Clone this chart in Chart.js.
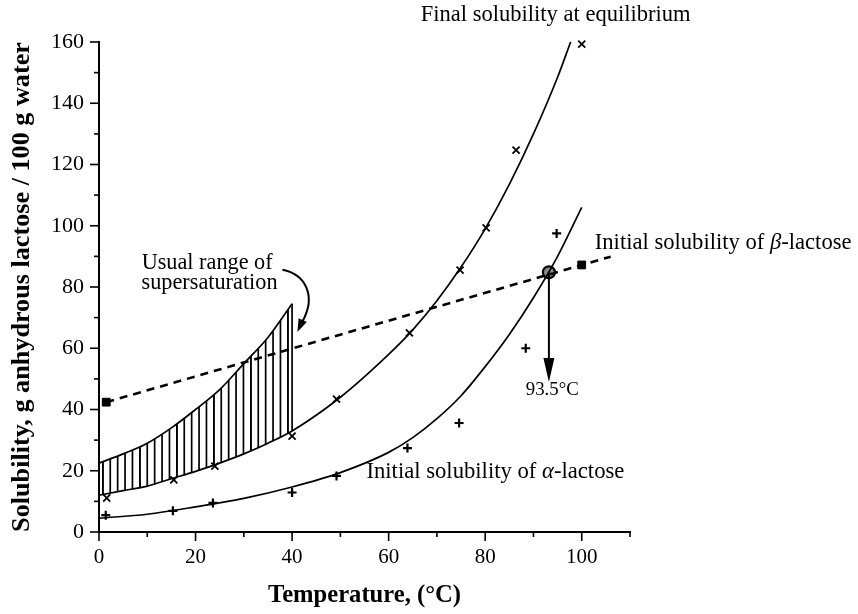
<!DOCTYPE html>
<html><head><meta charset="utf-8">
<script src="https://cdn.jsdelivr.net/npm/chart.js@4.4.1/dist/chart.umd.min.js"></script>
<style>html,body{margin:0;padding:0;background:#fff}#wrap{width:858px;height:614px;position:relative}</style>
</head><body><div id="wrap"><canvas id="c"></canvas></div>
<script>
// ---- data ----
const xTickValues = [0, 20, 40, 60, 80, 100];
const yTickValues = [0, 20, 40, 60, 80, 100, 120, 140, 160];

// measured points: final solubility at equilibrium (x markers)
const finalTemp = [1.6, 15.5, 24, 40, 49.2, 64.3, 74.8, 80.2, 86.4, 100];
const finalSol  = [11.1, 17, 21.5, 31.3, 43.4, 65, 85.5, 99.3, 124.7, 159.3];
// measured points: initial solubility of alpha-lactose (+ markers)
const alphaTemp = [1.4, 15.3, 23.6, 40, 49.2, 63.9, 74.6, 88.4, 94.8];
const alphaSol  = [5.5, 6.9, 9.5, 12.9, 18.3, 27.4, 35.6, 60, 97.5];
// measured points: initial solubility of beta-lactose (filled squares)
const betaTemp = [1.5, 100];
const betaSol  = [42.4, 87.2];

// fitted curves as drawn in the reference
const finalCurveT = [0, 5, 10, 15, 20, 25, 30, 35, 40, 50, 60, 65, 70, 75, 80, 85, 90, 95, 97.7];
const finalCurveS = [12, 13.5, 15, 17.4, 19.8, 22.5, 25.5, 29, 33, 44, 58, 66, 75.5, 86.5, 99, 113.5, 130, 148.5, 160];
const alphaCurveT = [0, 10, 20, 30, 40, 50, 60, 65, 70, 75, 80, 85, 90, 95, 100];
const alphaCurveS = [4.5, 5.8, 8.2, 11, 14.7, 19.4, 26, 30.8, 37, 44.5, 54, 64.5, 76.5, 90, 106];
const betaLineT = [1.5, 106];
const betaLineS = [42.4, 89.9];
// usual range of supersaturation (hatched band)
const superT     = [0, 5, 10, 15, 20, 25, 30, 35, 40];
const superUpper = [22.5, 25.5, 29, 34, 40, 46.5, 55, 63.5, 74.5];
const superLower = [12, 13.5, 15, 17.4, 19.8, 22.5, 25.5, 29, 33];
// intersection of beta line and alpha curve
const crossT = 93.2, crossS = 84.8;
const arrowTipS = 49;

const pts = (xs, ys) => xs.map((v, i) => ({x: v, y: ys[i]}));
const SERIF = '"Liberation Serif", "Times New Roman", serif';

// font size fitting helper
const mctx = document.createElement('canvas').getContext('2d');
function fitSize(parts, target, weight) {
  let w = 0;
  parts.forEach(p => { mctx.font = (p.italic ? 'italic ' : '') + (weight || '') + ' 20px ' + SERIF; w += mctx.measureText(p.t).width; });
  return 20 * target / w;
}

// hatch pattern
function hatchPattern() {
  const c = document.createElement('canvas');
  c.width = 37; c.height = 4;
  const g = c.getContext('2d');
  g.fillStyle = '#000';
  for (let i = 0; i < 6; i++) {
    const xx = ((i * 7.4 + 28) % 37);
    g.fillRect(xx, 0, 1.7, 4);
    if (xx + 1.7 > 37) g.fillRect(xx - 37, 0, 1.7, 4);
  }
  return g.createPattern(c, 'repeat');
}

const yTitle = 'Solubility, g anhydrous lactose / 100 g water';
const xTitle = 'Temperature, (°C)';
const yTitleSize = fitSize([{t: yTitle}], 490, 'bold');
const xTitleSize = fitSize([{t: xTitle}], 193, 'bold');

const labels = [
  {parts: [{t: 'Final solubility at equilibrium'}], x: 94.6, y: 168.8, w: 270, align: 'center'},
  {parts: [{t: 'Initial solubility of '}, {t: 'β', italic: true}, {t: '-lactose'}], x: 102.7, y: 94.4, w: 257, align: 'left'},
  {parts: [{t: 'Initial solubility of '}, {t: 'α', italic: true}, {t: '-lactose'}], x: 55.4, y: 19.6, w: 258, align: 'left'},
  {parts: [{t: '93.5°C'}], x: 93.9, y: 46.4, w: 53, align: 'center'},
  {parts: [{t: 'Usual range of'}], x: 22.4, y: 87.8, w: 131, align: 'center'},
  {parts: [{t: 'supersaturation'}], x: 22.9, y: 81.3, w: 136, align: 'center'}
];

function arrowHead(ctx, tx, ty, dx, dy, len, wid) {
  const L = Math.hypot(dx, dy); dx /= L; dy /= L;
  const bx = tx - dx * len, by = ty - dy * len;
  ctx.beginPath();
  ctx.moveTo(tx, ty);
  ctx.lineTo(bx - dy * wid / 2, by + dx * wid / 2);
  ctx.lineTo(bx + dy * wid / 2, by - dx * wid / 2);
  ctx.closePath();
  ctx.fill();
}

const annot = {
  id: 'annot',
  afterDraw(chart) {
    const {ctx, scales: {x, y}} = chart;
    const X = v => x.getPixelForValue(v), Y = v => y.getPixelForValue(v);
    ctx.save();
    ctx.strokeStyle = '#000'; ctx.fillStyle = '#000'; ctx.lineWidth = 1.6;
    // tick marks
    for (let v = 0; v <= 110; v += 10) {
      const major = v % 20 === 0 && v <= 100;
      const px = X(v), py = Y(0);
      ctx.beginPath(); ctx.moveTo(px, py); ctx.lineTo(px, py + (major ? 9 : 5)); ctx.stroke();
    }
    for (let v = 0; v <= 160; v += 10) {
      const major = v % 20 === 0;
      const px = X(0), py = Y(v);
      ctx.beginPath(); ctx.moveTo(px, py); ctx.lineTo(px - (major ? 9 : 5), py); ctx.stroke();
    }
    // texts
    ctx.textBaseline = 'middle';
    labels.forEach(l => {
      const s = fitSize(l.parts, l.w, '');
      let total = 0;
      const widths = l.parts.map(p => { ctx.font = (p.italic ? 'italic ' : '') + s + 'px ' + SERIF; const w = ctx.measureText(p.t).width; total += w; return w; });
      let cx = X(l.x) - (l.align === 'center' ? total / 2 : 0);
      const cy = Y(l.y);
      ctx.textAlign = 'left';
      l.parts.forEach((p, i) => { ctx.font = (p.italic ? 'italic ' : '') + s + 'px ' + SERIF; ctx.fillText(p.t, cx, cy); cx += widths[i]; });
    });
    // curved arrow to the hatched band
    ctx.lineWidth = 2;
    ctx.beginPath();
    ctx.moveTo(X(38.0), Y(85.6));
    ctx.bezierCurveTo(X(42.6), Y(84.2), X(45.2), Y(77.4), X(42.1), Y(68.6));
    ctx.stroke();
    arrowHead(ctx, X(41.1), Y(65.3), X(41.1) - X(42.3), Y(65.3) - Y(69.5), 13, 9);
    // vertical arrow from intersection
    ctx.lineWidth = 2;
    ctx.beginPath(); ctx.moveTo(X(crossT), Y(crossS)); ctx.lineTo(X(crossT), Y(arrowTipS) - 10); ctx.stroke();
    arrowHead(ctx, X(crossT), Y(arrowTipS), 0, 1, 24, 11);
    ctx.restore();
  }
};

const black = '#000';
const lineDS = (data, extra) => Object.assign({data, showLine: true, borderColor: black, borderWidth: 1.7, pointRadius: 0, fill: false, cubicInterpolationMode: 'monotone', clip: false}, extra || {});

new Chart(document.getElementById('c'), {
  type: 'scatter',
  data: {
    datasets: [
      lineDS(pts(superT, superUpper), {fill: '+1', backgroundColor: hatchPattern()}),
      lineDS(pts(superT, superLower), {borderWidth: 0}),
      lineDS([{x: 40, y: superLower[superLower.length - 1]}, {x: 40, y: superUpper[superUpper.length - 1]}], {cubicInterpolationMode: 'default', tension: 0}),
      lineDS(pts(finalCurveT, finalCurveS)),
      lineDS(pts(alphaCurveT, alphaCurveS)),
      lineDS(pts(betaLineT, betaLineS), {borderWidth: 2.6, borderDash: [8, 6], cubicInterpolationMode: 'default', tension: 0}),
      {data: pts(finalTemp, finalSol), pointStyle: 'crossRot', pointRadius: 5, borderColor: black, pointBorderWidth: 1.8, clip: false},
      {data: pts(alphaTemp, alphaSol), pointStyle: 'cross', pointRadius: 4.5, borderColor: black, pointBorderWidth: 2.2, clip: false},
      {data: pts(betaTemp, betaSol), pointStyle: 'rect', pointRadius: 5.5, backgroundColor: black, borderColor: black, pointBorderWidth: 1, clip: false},
      {data: [{x: crossT, y: crossS}], pointStyle: 'circle', pointRadius: 6, backgroundColor: '#8a8a8a', borderColor: black, pointBorderWidth: 2.2, clip: false}
    ]
  },
  options: {
    responsive: true, maintainAspectRatio: false, animation: false,
    layout: {padding: {top: 42, right: 228, left: 0, bottom: 0}},
    plugins: {legend: {display: false}, tooltip: {enabled: false}},
    scales: {
      x: {
        type: 'linear', min: 0, max: 110,
        afterFit: s => { s.height = 82; },
        afterBuildTicks: s => { s.ticks = xTickValues.map(v => ({value: v})); },
        grid: {drawOnChartArea: false, drawTicks: false},
        border: {display: true, color: black, width: 2},
        ticks: {color: black, padding: 13, font: {family: SERIF, size: 21}, maxRotation: 0, autoSkip: false},
        title: {display: true, text: xTitle, color: black, font: {family: SERIF, size: xTitleSize, weight: 'bold'}, padding: {top: 0, bottom: 18 - 0.6 * xTitleSize}}
      },
      y: {
        type: 'linear', min: 0, max: 160,
        afterFit: s => { s.width = 99; },
        afterBuildTicks: s => { s.ticks = yTickValues.map(v => ({value: v})); },
        grid: {drawOnChartArea: false, drawTicks: false},
        border: {display: true, color: black, width: 2},
        ticks: {color: black, padding: 15, font: {family: SERIF, size: 22}, autoSkip: false},
        title: {display: true, text: yTitle, color: black, font: {family: SERIF, size: yTitleSize, weight: 'bold'}, padding: {top: 22 - 0.6 * yTitleSize, bottom: 0}}
      }
    }
  },
  plugins: [annot]
});
</script></body></html>
